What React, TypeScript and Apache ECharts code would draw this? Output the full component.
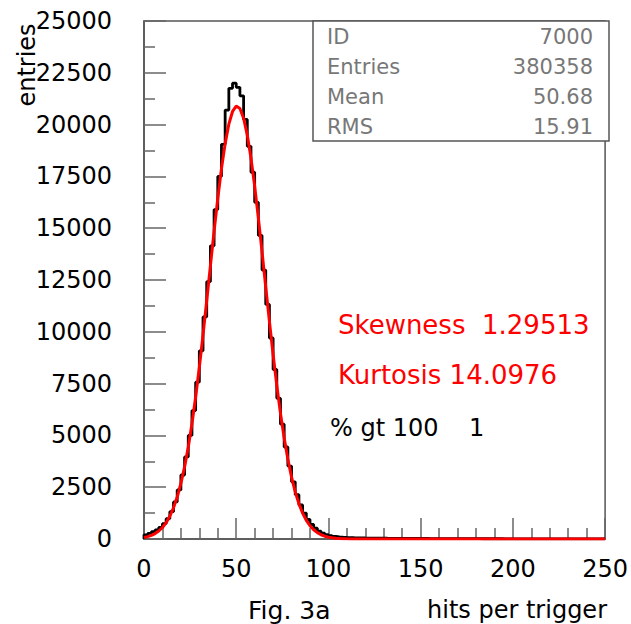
import React, { useEffect, useRef } from "react";
import * as echarts from "echarts";

// Histogram: 125 bins of width 2 on [0, 250), counts
const BIN_WIDTH = 2;
const histCounts = [
  200, 270, 350, 440, 560, 740, 980, 1320, 1790, 2370,
  3090, 3960, 5000, 6200, 7570, 9080, 10720, 12420, 14150, 15900,
  17500, 19050, 20700, 21750, 22000, 21800, 21390, 20250, 18950, 17700,
  16250, 14650, 12980, 11320, 9700, 8180, 6790, 5540, 4440, 3520,
  2760, 2140, 1640, 1250, 940, 700, 520, 380, 280, 210,
  160, 125, 100, 85, 75, 68, 62, 57, 53, 49,
  46, 43, 41, 39, 37, 35, 34, 32, 31, 30,
  29, 28, 27, 26, 25, 24, 23, 22, 21, 21,
  20, 19, 18, 18, 17, 16, 16, 15, 15, 14,
  14, 13, 13, 12, 12, 11, 11, 10, 10, 10,
  9, 9, 9, 8, 8, 8, 7, 7, 7, 6,
  6, 6, 6, 5, 5, 5, 5, 4, 4, 4,
  4, 3, 3, 3, 3,
];

const fitX = [
  0, 2, 4, 6, 8, 10, 12, 14, 16, 18, 20, 22, 24, 26, 28, 30, 32, 34, 36, 38,
  40, 42, 44, 46, 48, 50, 52, 54, 56, 58, 60, 62, 64, 66, 68, 70, 72, 74, 76, 78,
  80, 82, 84, 86, 88, 90, 92, 94, 96, 98, 100, 102, 104, 106, 108, 110,
  112, 114, 116, 118, 120, 160, 200, 250,
];
const fitY = [
  74, 115, 175, 262, 385, 556, 789, 1100, 1506, 2027, 2680, 3482, 4441, 5566, 6853, 8289, 9848, 11497, 13182, 14850,
  16434, 17867, 19082, 20020, 20634, 20893, 20781, 20307, 19494, 18382, 17029, 15499, 13857, 12170, 10500, 8901, 7411, 6063, 4872, 3846,
  2982, 2272, 1701, 1250, 903, 641, 447, 306, 206, 136, 88, 56, 35, 22, 13, 8,
  5, 3, 2, 1, 0, 0, 0, 0,
];

const statsLabels = ["ID", "Entries", "Mean", "RMS"];
const statsValues = ["7000", "380358", "50.68", "15.91"];

const redNotes = ["Skewness  1.29513", "Kurtosis 14.0976"];
const blackNote = "% gt 100    1";

const xTitle = "hits per trigger";
const figLabel = "Fig. 3a";
const yTitle = "entries";

const FONT = "DejaVu Sans";

export default function App() {
  const ref = useRef<HTMLDivElement>(null);

  useEffect(() => {
    if (!ref.current) return;
    const chart = echarts.init(ref.current, undefined, { renderer: "svg" });

    const histPoints: [number, number][] = [[0, 0]];
    histCounts.forEach((c, i) => histPoints.push([i * BIN_WIDTH, c]));
    histPoints.push([histCounts.length * BIN_WIDTH, histCounts[histCounts.length - 1]]);

    const fitPoints = fitX.map((x, i) => [x, fitY[i]]);

    const statsRows = [37, 67, 97, 127];
    const graphics: any[] = [
      {
        type: "rect",
        shape: { x: 313, y: 21, width: 296, height: 120 },
        style: { fill: "#fff", stroke: "#555", lineWidth: 1.5 },
        z: 10,
      },
    ];
    statsLabels.forEach((t, i) => {
      graphics.push({
        type: "text",
        x: 327,
        y: statsRows[i],
        z: 11,
        style: { text: t, fill: "#777", fontSize: 21, fontFamily: FONT, align: "left", verticalAlign: "middle" },
      });
      graphics.push({
        type: "text",
        x: 593,
        y: statsRows[i],
        z: 11,
        style: { text: statsValues[i], fill: "#777", fontSize: 21, fontFamily: FONT, align: "right", verticalAlign: "middle" },
      });
    });
    redNotes.forEach((t, i) => {
      graphics.push({
        type: "text",
        x: 338,
        y: 325 + i * 50,
        z: 11,
        style: { text: t, fill: "#ff0000", fontSize: 26, fontFamily: FONT, align: "left", verticalAlign: "middle" },
      });
    });
    graphics.push({
      type: "text",
      x: 330,
      y: 428,
      z: 11,
      style: { text: blackNote, fill: "#000", fontSize: 24, fontFamily: FONT, align: "left", verticalAlign: "middle" },
    });
    graphics.push({
      type: "text",
      x: 27,
      y: 65,
      rotation: Math.PI / 2,
      z: 11,
      style: { text: yTitle, fill: "#000", fontSize: 24, fontFamily: FONT, align: "center", verticalAlign: "middle" },
    });
    graphics.push({
      type: "text",
      x: 248,
      y: 610,
      z: 11,
      style: { text: figLabel, fill: "#000", fontSize: 25, fontFamily: FONT, align: "left", verticalAlign: "middle" },
    });
    graphics.push({
      type: "text",
      x: 607,
      y: 610,
      z: 11,
      style: { text: xTitle, fill: "#000", fontSize: 24, fontFamily: FONT, align: "right", verticalAlign: "middle" },
    });

    const axisCommon = {
      axisLine: { show: true, lineStyle: { color: "#555", width: 1.5 } },
      axisTick: { show: true, inside: true, lineStyle: { color: "#666", width: 1.5 } },
      splitLine: { show: false },
    };

    chart.setOption({
      animation: false,
      backgroundColor: "#fff",
      grid: {
        left: 144,
        top: 21,
        width: 465,
        height: 518,
        show: true,
        borderColor: "#555",
        borderWidth: 1.5,
      },
      xAxis: {
        type: "value",
        min: 0,
        max: 250,
        interval: 50,
        ...axisCommon,
        axisTick: { ...axisCommon.axisTick, length: 21 },
        minorTick: { show: true, splitNumber: 5, length: 11, lineStyle: { color: "#666", width: 1.5 } },
        minorSplitLine: { show: false },
        axisLabel: { color: "#000", fontSize: 24, fontFamily: FONT, margin: 18, formatter: (v: number) => String(v) },
      },
      yAxis: {
        type: "value",
        min: 0,
        max: 25000,
        interval: 2500,
        ...axisCommon,
        axisTick: { ...axisCommon.axisTick, length: 22 },
        minorTick: { show: true, splitNumber: 2, length: 11, lineStyle: { color: "#666", width: 1.5 } },
        minorSplitLine: { show: false },
        axisLabel: { color: "#000", fontSize: 24, fontFamily: FONT, margin: 32, formatter: (v: number) => String(v) },
      },
      series: [
        {
          type: "line",
          data: histPoints,
          step: "end",
          symbol: "none",
          lineStyle: { color: "#000", width: 2.8 },
          z: 2,
        },
        {
          type: "line",
          data: fitPoints,
          symbol: "none",
          smooth: false,
          lineStyle: { color: "#ff0000", width: 3 },
          z: 3,
        },
      ],
      graphic: graphics,
    });

    return () => chart.dispose();
  }, []);

  return (
    <div
      ref={ref}
      style={{ position: "absolute", left: 0, top: 0, width: 631, height: 624, background: "#fff" }}
    />
  );
}
